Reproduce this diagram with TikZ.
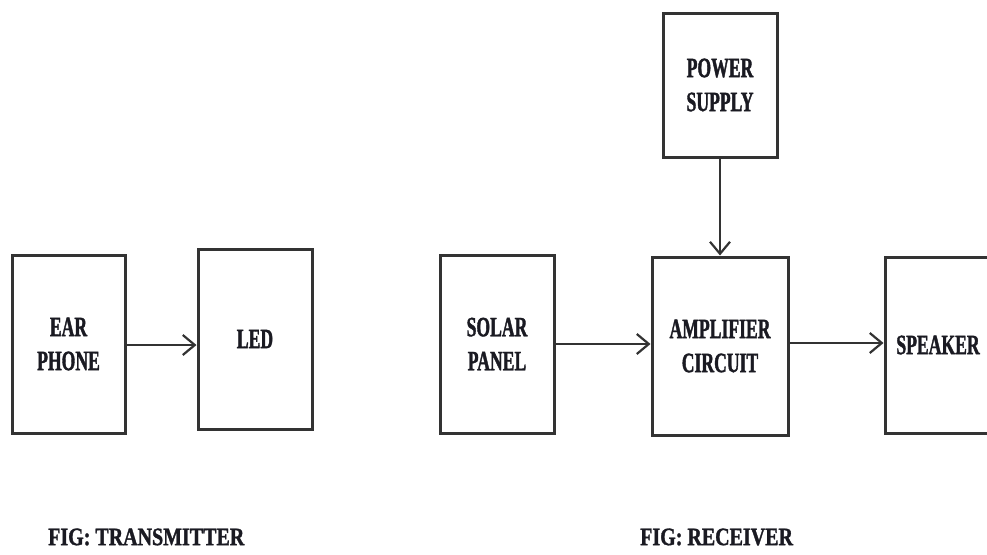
\documentclass[tikz,border=0pt]{standalone}
\usepackage{fontspec}
\usetikzlibrary{arrows.meta}
\newfontfamily\lblfont[FakeStretch=0.63, BoldFeatures={FakeBold=1.3}]{Liberation Serif}
\newfontfamily\capfont[FakeStretch=0.8, BoldFeatures={FakeBold=1.3}]{Liberation Serif}
\definecolor{linec}{HTML}{333333}
\definecolor{textc}{HTML}{1A1A22}
\tikzset{
  blk/.style={draw=linec, line width=3pt, rectangle, inner sep=0pt,
    text=textc, align=center, font=\lblfont\bfseries\fontsize{28}{34}\selectfont},
  conn/.style={draw=linec, line width=2.2pt,
    -{Straight Barb[length=12pt,width=20pt,line width=2.2pt]}},
  captxt/.style={text=textc, inner sep=0pt, anchor=west,
    font=\capfont\bfseries\fontsize{25}{30}\selectfont}
}
\begin{document}
\begin{tikzpicture}[x=1pt,y=-1pt]
\useasboundingbox (0,0) rectangle (987,554);
\clip (0,0) rectangle (987,554);
\fill[white] (0,0) rectangle (987,554);
% transmitter
\node[blk, minimum width=113pt, minimum height=178pt] (ear) at (68.5,344) {EAR\\PHONE};
\node[blk, minimum width=114pt, minimum height=180pt] (led) at (255,339) {LED};
% receiver
\node[blk, minimum width=114pt, minimum height=144pt] (power) at (720,85) {POWER\\SUPPLY};
\node[blk, minimum width=114pt, minimum height=178pt] (solar) at (497,344) {SOLAR\\PANEL};
\node[blk, minimum width=136pt, minimum height=178pt] (amp) at (720,346) {AMPLIFIER\\CIRCUIT};
\node[blk, minimum width=106pt, minimum height=176pt] (spk) at (938,345) {SPEAKER};
% connectors
\draw[conn] (ear.east |- 0,345) -- (led.west |- 0,345);
\draw[conn] (solar.east |- 0,344) -- (amp.west |- 0,344);
\draw[conn] (amp.east |- 0,343) -- (spk.west |- 0,343);
\draw[conn] (power.south) -- (amp.north);
% captions
\node[captxt] (capt) at (48,537) {FIG: TRANSMITTER};
\node[captxt] (capr) at (640,537) {FIG: RECEIVER};
\end{tikzpicture}
\end{document}
